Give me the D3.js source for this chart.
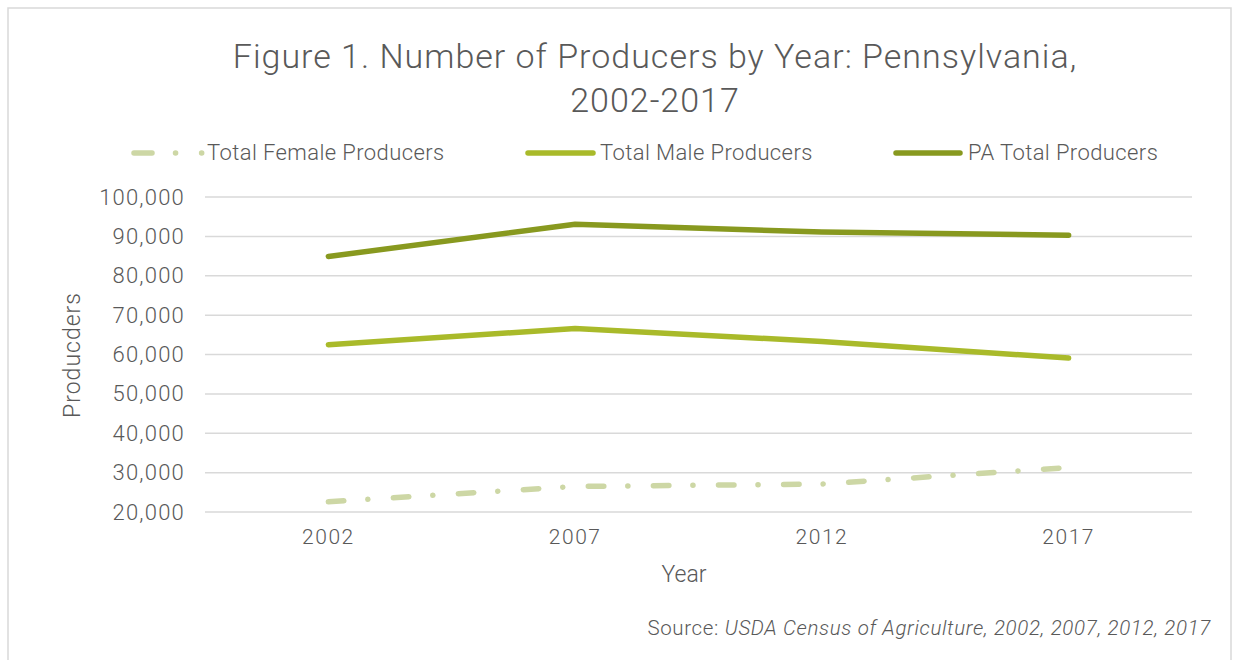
<!DOCTYPE html>
<html><head><meta charset="utf-8">
<script src="https://cdn.jsdelivr.net/npm/d3@7"></script>
<style>body{margin:0;background:#fff;}svg{display:block;}</style>
</head><body>
<script>
const years = ["2002","2007","2012","2017"];
const femaleProducers = [22600, 26500, 27100, 31300];
const maleProducers = [62500, 66600, 63300, 59100];
const totalProducers = [84900, 93100, 91100, 90300];
const yTicks = [20000,30000,40000,50000,60000,70000,80000,90000,100000];
const seriesNames = ["Total Female Producers","Total Male Producers","PA Total Producers"];

const W=1233,H=660;
const svg=d3.select("body").append("svg").attr("width",W).attr("height",H);
const font="Roboto,sans-serif";
const txt="#595959";

svg.append("rect").attr("x",8).attr("y",8).attr("width",1223).attr("height",700)
  .attr("fill","#fff").attr("stroke","#d9d9d9").attr("stroke-width",1.5);

const x=d3.scaleBand().domain(years).range([205,1192]);
const y=d3.scaleLinear().domain([20000,100000]).range([512,197]);

// gridlines
svg.append("g").selectAll("line").data(yTicks).join("line")
  .attr("x1",205).attr("x2",1192).attr("y1",d=>y(d)).attr("y2",d=>y(d))
  .attr("stroke","#d9d9d9").attr("stroke-width",1.5);

// y axis
const ya=svg.append("g").attr("transform","translate(195,0)")
  .call(d3.axisLeft(y).tickValues(yTicks).tickFormat(d3.format(",")).tickSize(0).tickPadding(10));
ya.select(".domain").remove();
ya.selectAll("text").attr("font-family",font).attr("font-size",22).attr("fill",txt).attr("font-weight",300).attr("letter-spacing",1.2);

// x axis
const xa=svg.append("g").attr("transform","translate(0,525)")
  .call(d3.axisBottom(x).tickSize(0).tickPadding(4));
xa.select(".domain").remove();
xa.selectAll("text").attr("font-family",font).attr("font-size",21).attr("fill",txt).attr("font-weight",300).attr("letter-spacing",1.5);

const series=[
  {name:seriesNames[0],vals:femaleProducers,color:"#cdd7a5",dash:"15.5,24,0.1,25.5"},
  {name:seriesNames[1],vals:maleProducers,color:"#a9ba2a",dash:null},
  {name:seriesNames[2],vals:totalProducers,color:"#88991f",dash:null}
];
const line=d3.line().x((d,i)=>x(years[i])+x.bandwidth()/2).y(d=>y(d));
series.forEach(s=>{
  svg.append("path").attr("d",line(s.vals)).attr("fill","none")
    .attr("stroke",s.color).attr("stroke-width",5.5).attr("stroke-linecap","round").attr("stroke-linejoin","round")
    .attr("stroke-dasharray",s.dash);
});

// title
const t=svg.append("text").attr("text-anchor","middle").attr("font-family",font).attr("font-weight",300)
  .attr("font-size",34).attr("letter-spacing",1).attr("fill",txt);
t.append("tspan").attr("x",655).attr("y",68).text("Figure 1. Number of Producers by Year: Pennsylvania,");
t.append("tspan").attr("x",655).attr("y",112).text("2002-2017");

// legend
const leg=[{x1:134,x2:202,tx:207},{x1:528,x2:593,tx:600},{x1:896,x2:960,tx:968}];
series.forEach((s,i)=>{
  svg.append("line").attr("x1",leg[i].x1).attr("x2",leg[i].x2).attr("y1",153).attr("y2",153)
    .attr("stroke",s.color).attr("stroke-width",5.5).attr("stroke-linecap","round")
    .attr("stroke-dasharray",i==0?"18,23.5,0.1,26,0.1,100":null);
  svg.append("text").attr("x",leg[i].tx).attr("y",160).attr("font-family",font).attr("font-weight",300).attr("font-size",22)
    .attr("letter-spacing",0.4).attr("fill",txt).text(s.name);
});

// axis titles
svg.append("text").attr("transform","translate(80,355) rotate(-90)").attr("text-anchor","middle")
  .attr("font-family",font).attr("font-weight",300).attr("font-size",23).attr("letter-spacing",1).attr("fill",txt).text("Producders");
svg.append("text").attr("x",684).attr("y",582).attr("text-anchor","middle")
  .attr("font-family",font).attr("font-weight",300).attr("font-size",23).attr("fill",txt).text("Year");

// source
const src=svg.append("text").attr("x",1211).attr("y",635).attr("text-anchor","end")
  .attr("font-family",font).attr("font-weight",300).attr("font-size",20.5).attr("letter-spacing",0.65).attr("fill",txt);
src.append("tspan").text("Source: ");
src.append("tspan").attr("font-style","italic").text("USDA Census of Agriculture, 2002, 2007, 2012, 2017");
</script>
</body></html>
